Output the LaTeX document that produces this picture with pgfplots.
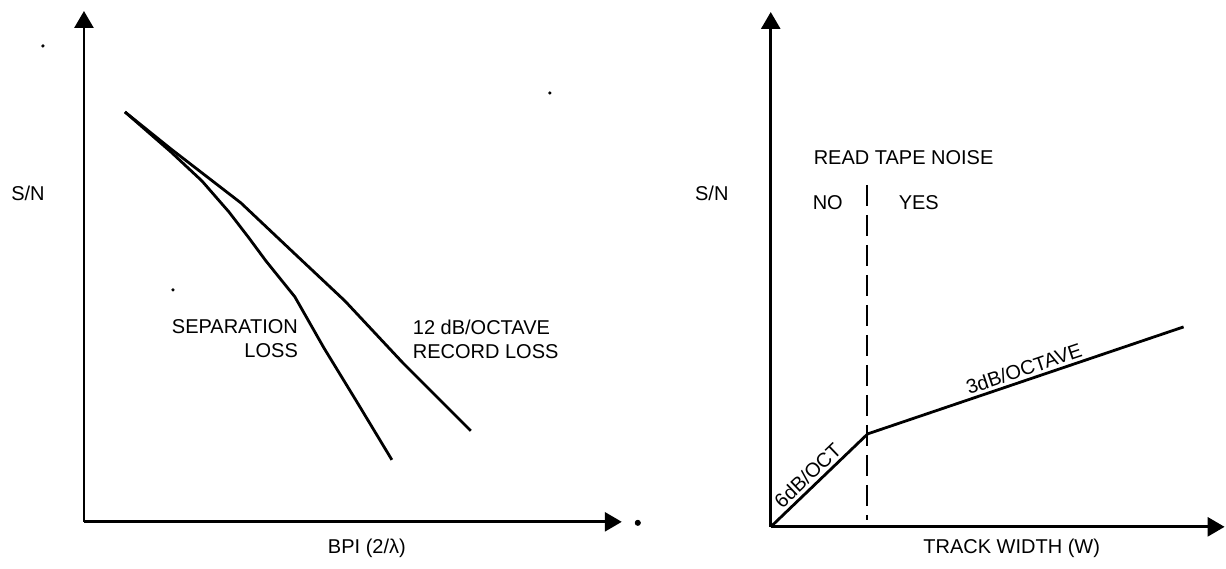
\documentclass[border=0pt]{standalone}
\usepackage{fontspec}
\setmainfont{Liberation Sans}
\usepackage{pgfplots}
\pgfplotsset{compat=1.18}
\usetikzlibrary{arrows.meta}

\newcommand\lab{\fontsize{7.8}{11}\selectfont\bfseries}

% one data unit = one pixel of the scan = 0.5pt
\pgfplotsset{sketch/.style={
  scale only axis, axis lines=left, xtick=\empty, ytick=\empty,
  axis line style={line width=1.4pt, -{Triangle[length=8.5pt,width=9.5pt]}},
  clip=false, xmin=0, ymin=0,
  every node/.append style={font=\lab},
}}

\begin{document}
\begin{tikzpicture}
\path (0,0) rectangle (613pt,284.5pt);

% left: S/N against BPI
\begin{axis}[sketch, at={(42pt,23.5pt)}, anchor=south west,
  width=269pt, height=255.5pt, xmax=538, ymax=511]
\addplot[black, line width=1.4pt] coordinates {
  (41,410) (87,373) (157,319) (211,268) (261,221) (319,159) (387,91)};
\addplot[black, line width=1.4pt] coordinates {
  (41,410) (87,370) (118,341) (145,310) (165,284) (182,261) (211,225) (240,174) (273,120) (308,62)};
\node[anchor=east, align=right] at (axis cs:221,183) {SEPARATION\\LOSS};
\node[anchor=west, align=left] at (axis cs:322,183) {12 dB/OCTAVE\\RECORD LOSS};
\node at (axis cs:-56,329) {S/N};
\node at (axis cs:283,-26) {BPI (2/λ)};
% specks of the scan
\addplot[only marks, mark=*, mark size=1.3pt, black] coordinates {(554,-1)};
\addplot[only marks, mark=*, mark size=0.6pt, black] coordinates {(-41,476) (466,429) (89,232)};
\end{axis}

% right: S/N against track width
\begin{axis}[sketch, at={(385.5pt,21pt)}, anchor=south west,
  width=227pt, height=257.5pt, xmax=454, ymax=515]
\addplot[black, line width=1.4pt] coordinates {(0,0) (97,93) (413,200)};
\addplot[black, line width=1pt, dash pattern=on 10.5pt off 4.5pt] coordinates {(96,342) (96,7)};
\node[anchor=west] at (axis cs:36,369) {READ TAPE NOISE};
\node[anchor=west] at (axis cs:35,324) {NO};
\node[anchor=west] at (axis cs:121,324) {YES};
\node[anchor=south, rotate=18.7, inner sep=2pt] at (axis cs:257,147) {3dB/OCTAVE};
\node[anchor=south, rotate=43.8, inner sep=2pt] at (axis cs:45,43) {6dB/OCT};
\node at (axis cs:-59,334) {S/N};
\node at (axis cs:241,-21) {TRACK WIDTH (W)};
\end{axis}
\end{tikzpicture}
\end{document}
